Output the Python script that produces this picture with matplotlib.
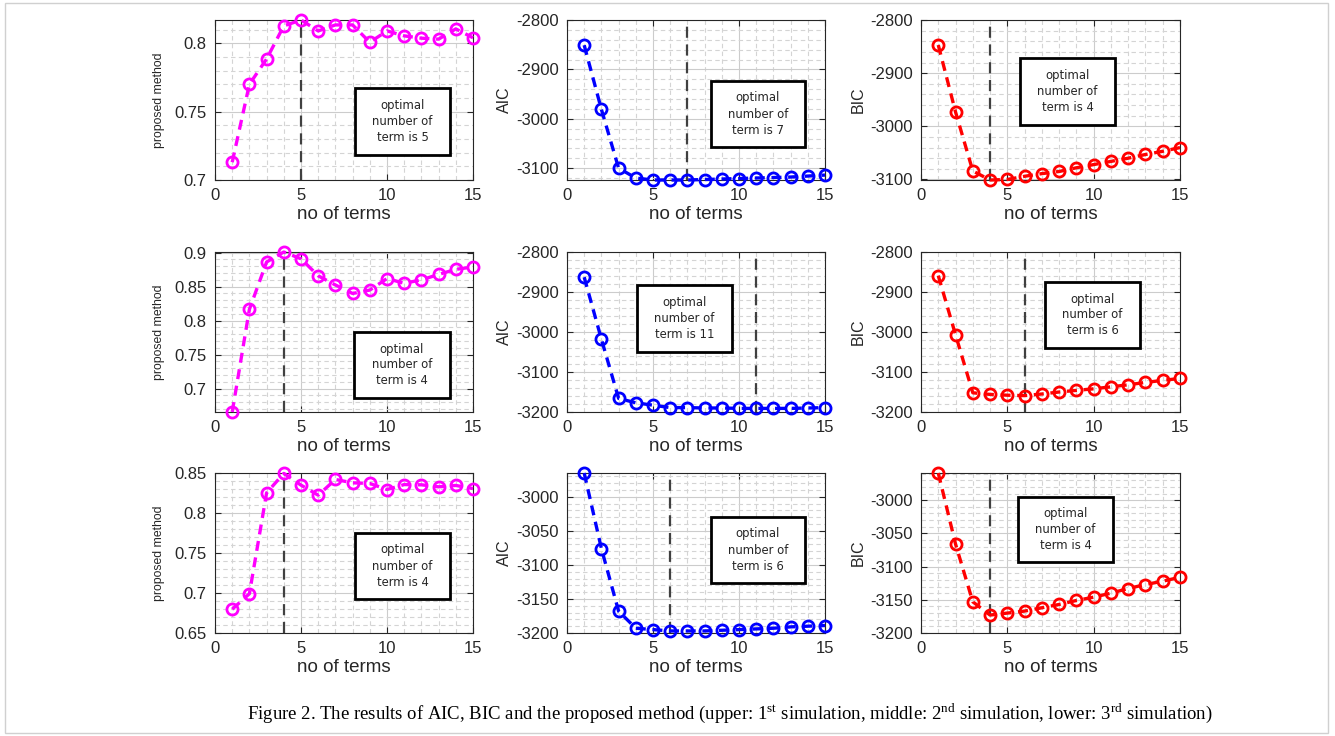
import matplotlib
matplotlib.use("Agg")
import matplotlib.pyplot as plt
from matplotlib.patches import Rectangle
from matplotlib.ticker import MultipleLocator

plt.rcParams['font.family'] = ['Liberation Sans', 'DejaVu Sans']
plt.rcParams['mathtext.fontset'] = 'custom'
plt.rcParams['mathtext.rm'] = 'Liberation Serif'

terms = list(range(1, 16))

prop1 = [0.713, 0.770, 0.7885, 0.8127, 0.817, 0.809, 0.8134, 0.8134, 0.8007, 0.809, 0.8054, 0.8037, 0.803, 0.8105, 0.804]
aic1 = [-2851, -2981, -3100, -3120, -3124, -3124, -3124, -3123, -3122, -3121, -3120, -3119, -3118, -3116, -3114]
bic1 = [-2847, -2973, -3084, -3101, -3100, -3094, -3089, -3085, -3078, -3072, -3066, -3060, -3053, -3047, -3040]

prop2 = [0.6657, 0.8167, 0.8863, 0.901, 0.891, 0.866, 0.8525, 0.840, 0.845, 0.862, 0.855, 0.860, 0.868, 0.8755, 0.879]
aic2 = [-2863, -3018, -3166, -3177, -3183, -3189, -3189, -3190, -3190, -3191, -3191, -3191, -3191, -3190, -3189]
bic2 = [-2859, -3007, -3152, -3156, -3158, -3159, -3155, -3150, -3146, -3142, -3137, -3132, -3126, -3121, -3116]

prop3 = [0.6798, 0.6992, 0.8256, 0.850, 0.8353, 0.8227, 0.8424, 0.8382, 0.8374, 0.8298, 0.836, 0.8357, 0.8332, 0.8349, 0.831]
aic3 = [-2965, -3076, -3168, -3193, -3195, -3197, -3197, -3197, -3196, -3195, -3194, -3193, -3191, -3190, -3189]
bic3 = [-2959, -3066, -3153, -3173, -3170, -3167, -3162, -3157, -3151, -3146, -3140, -3133, -3127, -3122, -3116]

optimal = [[5, 7, 4], [4, 11, 6], [4, 6, 4]]
ylabels = ["proposed method", "AIC", "BIC"]
colors = ["#ff00ff", "#0000ff", "#ff0000"]
xlabel = "no of terms"
caption = ("Figure 2. The results of AIC, BIC and the proposed method (upper: 1$^{\\mathrm{st}}$ simulation, "
           "middle: 2$^{\\mathrm{nd}}$ simulation, lower: 3$^{\\mathrm{rd}}$ simulation)")

data = [[prop1, aic1, bic1], [prop2, aic2, bic2], [prop3, aic3, bic3]]
ylims = [[(0.7, 0.817), (-3124, -2800), (-3101, -2800)],
         [(0.6657, 0.901), (-3200, -2800), (-3200, -2800)],
         [(0.65, 0.8505), (-3200, -2965), (-3200, -2959)]]
yticks = [[[0.7, 0.75, 0.8], [-3100, -3000, -2900, -2800], [-3100, -3000, -2900, -2800]],
          [[0.7, 0.75, 0.8, 0.85, 0.9], [-3200, -3100, -3000, -2900, -2800], [-3200, -3100, -3000, -2900, -2800]],
          [[0.65, 0.7, 0.75, 0.8, 0.85], [-3200, -3150, -3100, -3050, -3000], [-3200, -3150, -3100, -3050, -3000]]]
yminor = [[0.01, 20, 20], [0.01, 20, 20], [0.01, 10, 10]]

W, H = 1335, 736
fig = plt.figure(figsize=(W / 100, H / 100), dpi=100)

col_px = [(215, 473), (567, 825), (921, 1180)]
row_px = [(20, 180), (252, 412), (473, 633)]

# annotation boxes (x0, x1, y0, y1) in pixels
boxes = [[(355, 450, 88, 155), (711, 805, 81, 147), (1020, 1115, 58, 125)],
         [(354, 450, 332, 398), (637, 732, 285, 352), (1045, 1140, 282, 348)],
         [(355, 450, 533, 599), (711, 805, 517, 583), (1018, 1113, 497, 562)]]


def fmt(v):
    return ("%g" % v)


for r in range(3):
    for c in range(3):
        x0, x1 = col_px[c]
        y0, y1 = row_px[r]
        ax = fig.add_axes([x0 / W, 1 - y1 / H, (x1 - x0) / W, (y1 - y0) / H])
        ax.plot(terms, data[r][c], linestyle=(0, (3, 2)), color=colors[c], lw=2.4,
                marker='o', markersize=8, markerfacecolor='none', markeredgewidth=2,
                clip_on=False, zorder=3)
        ax.axvline(optimal[r][c], color='#404040', linestyle=(0, (5, 3)), lw=1.6, zorder=2)
        ax.set_xlim(0, 15)
        ax.set_ylim(*ylims[r][c])
        ax.set_xticks([0, 5, 10, 15])
        ax.set_xticklabels([fmt(v) for v in [0, 5, 10, 15]])
        ax.set_yticks(yticks[r][c])
        ax.set_yticklabels([fmt(v) for v in yticks[r][c]])
        ax.xaxis.set_minor_locator(MultipleLocator(1))
        ax.yaxis.set_minor_locator(MultipleLocator(yminor[r][c]))
        ax.grid(True, which='major', color='#cccccc', lw=0.8, linestyle='-')
        ax.grid(True, which='minor', color='#d4d4d4', lw=0.8, linestyle=(0, (4, 3)))
        ax.set_axisbelow(True)
        ax.tick_params(which='both', direction='in', top=True, right=True, colors='#262626')
        ax.tick_params(which='major', length=4, labelsize=12, labelcolor='#262626', pad=6)
        ax.tick_params(which='minor', length=0)
        for s in ax.spines.values():
            s.set_color('#262626')
            s.set_linewidth(0.8)
        ax.set_xlabel(xlabel, fontsize=13.5, color='#262626', labelpad=2)
        if c == 0:
            ax.set_ylabel(ylabels[c], fontsize=8.8, color='#262626', labelpad=7)
        else:
            ax.set_ylabel(ylabels[c], fontsize=11.5, color='#262626', labelpad=3)

        bx0, bx1, by0, by1 = boxes[r][c]
        rect = Rectangle((bx0 / W, 1 - by1 / H), (bx1 - bx0) / W, (by1 - by0) / H,
                         transform=fig.transFigure, facecolor='white', edgecolor='black',
                         lw=2, zorder=5)
        fig.add_artist(rect)
        fig.text((bx0 + bx1) / 2 / W, 1 - (by0 + by1) / 2 / H,
                 "optimal\nnumber of\nterm is %d" % optimal[r][c],
                 ha='center', va='center', fontsize=8.4, color='#262626',
                 family='DejaVu Sans', linespacing=1.3, zorder=6)

fig.text(730 / W, 1 - 713 / H, caption, ha='center', va='center',
         fontsize=13.5, family='Liberation Serif', color='black')

border = Rectangle((5 / W, 1 - 733 / H), 1323 / W, 730 / H, transform=fig.transFigure,
                   facecolor='none', edgecolor='#d0d0d0', lw=1)
fig.add_artist(border)

fig.savefig("out.png", dpi=100)
